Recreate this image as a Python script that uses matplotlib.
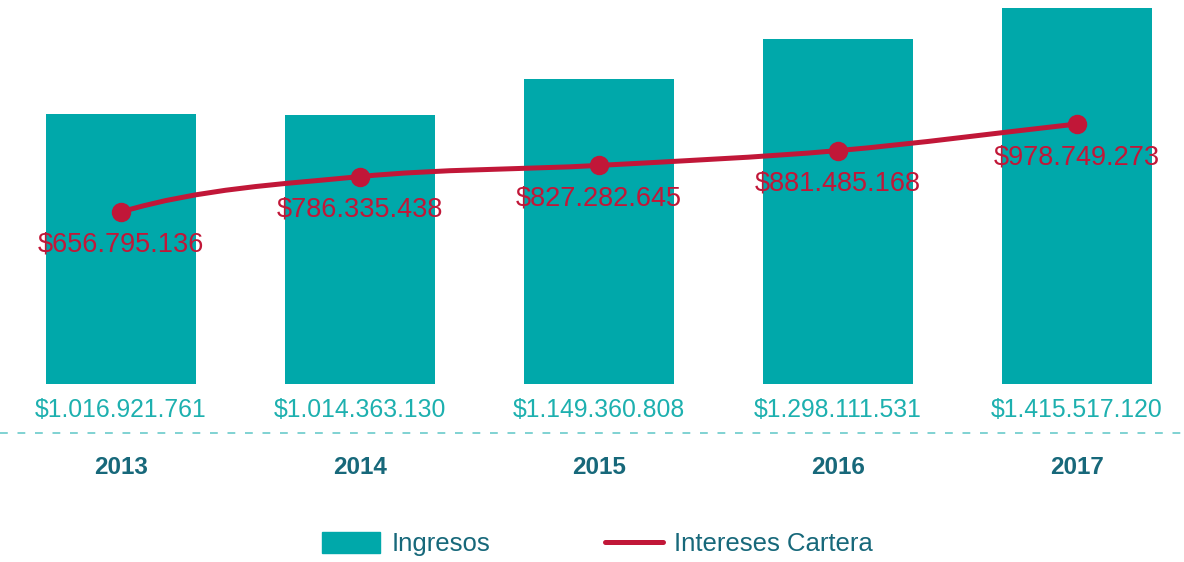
import matplotlib
matplotlib.use("Agg")
import matplotlib.pyplot as plt
from matplotlib.path import Path
from matplotlib.patches import PathPatch
from matplotlib.lines import Line2D
import numpy as np

plt.rcParams['font.family'] = ['Liberation Sans', 'DejaVu Sans']

# ---- data ----
years = ["2013", "2014", "2015", "2016", "2017"]
ingresos = [1016921761, 1014363130, 1149360808, 1298111531, 1415517120]
intereses = [656795136, 786335438, 827282645, 881485168, 978749273]
ingresos_labels = ["$1.016.921.761", "$1.014.363.130", "$1.149.360.808", "$1.298.111.531", "$1.415.517.120"]
intereses_labels = ["$656.795.136", "$786.335.438", "$827.282.645", "$881.485.168", "$978.749.273"]

TEAL = "#00A8AA"
TEAL_TXT = "#1DB0AF"
RED = "#C11738"
DARK = "#17687A"
DASH = "#7FD2D2"

W, H = 1184, 562
fig = plt.figure(figsize=(W / 100, H / 100), dpi=100)
base_px = 384
ax = fig.add_axes([0, 1 - base_px / H, 1, base_px / H])
ax2 = ax.twinx()

x = np.arange(len(years))
ax.bar(x, ingresos, width=0.63, color=TEAL, zorder=1)
ax.set_xlim(-0.506, 4.448)
ax.set_ylim(0, 1.4463e9)
ax2.set_ylim(27.4e6, 1432.5e6)
ax2.set_xlim(ax.get_xlim())

for a in (ax, ax2):
    a.axis("off")

# smooth line (cubic Hermite / Bezier through the data points)
ys = np.array(intereses, dtype=float)
n = len(x)
d = np.diff(ys)
slopes = np.zeros(n)
for i in range(1, n - 1):
    slopes[i] = (ys[i + 1] - ys[i - 1]) / 2
slopes[0] = 2 * d[0]
slopes[-1] = d[-1]
verts = [(x[0], ys[0])]
codes = [Path.MOVETO]
for i in range(n - 1):
    verts += [(x[i] + 1 / 3, ys[i] + slopes[i] / 3),
              (x[i + 1] - 1 / 3, ys[i + 1] - slopes[i + 1] / 3),
              (x[i + 1], ys[i + 1])]
    codes += [Path.CURVE4] * 3
ax2.add_patch(PathPatch(Path(verts, codes), fill=False, edgecolor=RED, lw=3.6,
                        capstyle="round", zorder=3))
ax2.plot(x, intereses, "o", color=RED, markersize=13, zorder=4)

for xi, v, lab in zip(x, intereses, intereses_labels):
    ax2.annotate(lab, (xi, v), xytext=(0, -40), textcoords="offset pixels",
                 ha="center", va="baseline", fontsize=19.5, color=RED, zorder=5)

for xi, lab in zip(x, ingresos_labels):
    ax.annotate(lab, (xi, 0), xytext=(0, -33), textcoords="offset pixels",
                ha="center", va="baseline", fontsize=17.8, color=TEAL_TXT,
                annotation_clip=False)

for xi, lab in zip(x, years):
    ax.annotate(lab, (xi, 0), xytext=(0, -90), textcoords="offset pixels",
                ha="center", va="baseline", fontsize=17.5, fontweight="bold",
                color=DARK, annotation_clip=False)

fig.add_artist(Line2D([0, 1], [1 - 433 / H] * 2, transform=fig.transFigure,
                      color=DASH, lw=1.4, linestyle=(0, (4, 5))))

handles = [plt.Rectangle((0, 0), 1, 1, color=TEAL),
           Line2D([], [], color=RED, lw=3.6, solid_capstyle="round")]
fig.legend(handles, ["Ingresos", "Intereses Cartera"], loc="center",
           bbox_to_anchor=(0.5047, 1 - 544 / H), ncol=2, frameon=False,
           fontsize=18.5, labelcolor=DARK, handlelength=2.25, handleheight=0.93,
           handletextpad=0.45, columnspacing=4.45)

fig.savefig("out.png", dpi=100)
